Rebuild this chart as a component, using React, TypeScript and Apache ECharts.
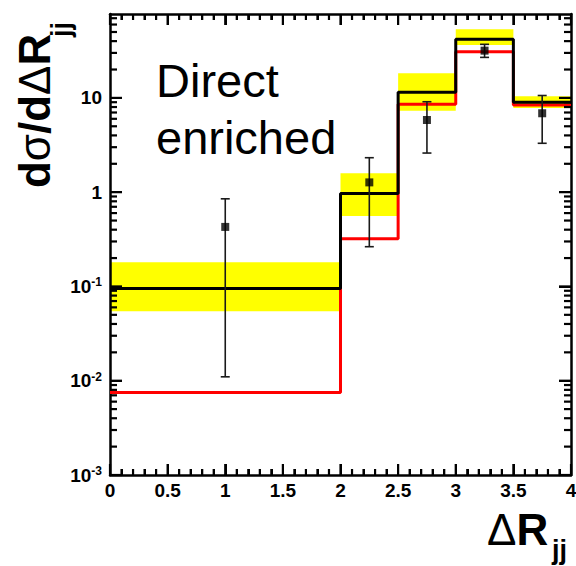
import React, { useEffect, useRef } from 'react';
import * as echarts from 'echarts';

// ---- data ----
const binEdges = [0, 2, 2.5, 3, 3.5, 4];
const totalMC = [0.095, 0.97, 11.5, 42, 9.0];      // black histogram
const directMC = [0.0075, 0.32, 8.55, 30.9, 8.4];  // red histogram
const bandLow = [0.0546, 0.56, 7.3, 36.4, 7.8];    // yellow band lower edge
const bandHigh = [0.181, 1.59, 18.2, 53.4, 10.4];  // yellow band upper edge
const dataX = [1, 2.25, 2.75, 3.25, 3.75];
const dataY = [0.428, 1.27, 5.83, 31.7, 6.87];
const errLow = [0.011, 0.264, 2.6, 26.9, 3.3];
const errHigh = [0.85, 2.32, 9.1, 37, 10.6];
const yMajorTicks = [0.001, 0.01, 0.1, 1, 10];
const yMinorFactors = [2, 3, 4, 5, 6, 7, 8, 9];
const xMajorTicks = [0, 0.5, 1, 1.5, 2, 2.5, 3, 3.5, 4];
const yMin = 0.001;
const yMax = 77.6;
const xMin = 0;
const xMax = 4;
const xInterval = 0.5;

const FONT = '"Liberation Sans", Arial, Helvetica, sans-serif';

function stepPoints(values: number[]) {
  const pts: number[][] = [];
  values.forEach((v, i) => {
    pts.push([binEdges[i], v]);
    pts.push([binEdges[i + 1], v]);
  });
  return pts;
}

const yMinorTicks: number[] = [];
yMajorTicks.forEach((d) => {
  yMinorFactors.forEach((k) => {
    const v = d * k;
    if (v <= yMax) yMinorTicks.push(v);
  });
});
const xMinorTicks: number[] = [];
xMajorTicks.slice(0, -1).forEach((m) => {
  [1, 2, 3, 4].forEach((k) => xMinorTicks.push(Math.round((m + k * 0.1) * 10) / 10));
});

function buildOption(): any {
  const lineCol = '#000';
  const yLabelFormatter = (v: number) => {
    const e = Math.round(Math.log10(v));
    if (e === 0) return '{b|1}';
    if (e === 1) return '{b|10}';
    return '{b|10}{e|' + e + '}';
  };
  const mkX = (position: string, labels: boolean) => ({
    type: 'value',
    position,
    min: xMin,
    max: xMax,
    interval: xInterval,
    splitLine: { show: false },
    axisLine: { show: true, onZero: false, lineStyle: { color: lineCol, width: 2.5 } },
    axisTick: { show: true, inside: true, length: 11, lineStyle: { color: lineCol, width: 2 } },
    minorTick: { show: true, splitNumber: 5, length: 6, lineStyle: { color: lineCol, width: 2 } },
    axisLabel: labels
      ? { show: true, color: '#000', fontFamily: FONT, fontWeight: 'bold', fontSize: 19, margin: 6, formatter: (v: number) => String(v) }
      : { show: false },
  });
  const mkY = (position: string, labels: boolean) => ({
    type: 'log',
    position,
    logBase: 10,
    min: yMin,
    max: yMax,
    splitLine: { show: false },
    axisLine: { show: true, onZero: false, lineStyle: { color: lineCol, width: 2.5 } },
    axisTick: { show: true, inside: true, length: 12, customValues: yMajorTicks, lineStyle: { color: lineCol, width: 2 } },
    axisLabel: labels
      ? {
          show: true,
          customValues: yMajorTicks,
          margin: 8,
          formatter: yLabelFormatter,
          rich: {
            b: { fontFamily: FONT, fontWeight: 'bold', fontSize: 19, color: '#000', lineHeight: 20 },
            e: { fontFamily: FONT, fontWeight: 'bold', fontSize: 12, color: '#000', verticalAlign: 'top', lineHeight: 12 },
          },
        }
      : { show: false },
  });

  return {
    animation: false,
    grid: { left: 110, right: 5, top: 14, bottom: 91, outerBoundsMode: 'none' },
    xAxis: [mkX('bottom', true), mkX('top', false)],
    yAxis: [mkY('left', true), mkY('right', false)],
    series: [
      {
        type: 'custom',
        name: 'band',
        z: -1,
        encode: { x: [0, 1], y: [2, 3] },
        data: bandLow.map((lo, i) => [binEdges[i], binEdges[i + 1], lo, bandHigh[i]]),
        renderItem: (params: any, api: any) => {
          const p0 = api.coord([api.value(0), api.value(3)]);
          const p1 = api.coord([api.value(1), api.value(2)]);
          return {
            type: 'rect',
            shape: { x: p0[0], y: p0[1], width: p1[0] - p0[0], height: p1[1] - p0[1] },
            style: { fill: '#ffff00' },
          };
        },
      },
      {
        // frame ticks on left and right, drawn as thin filled bars
        type: 'custom',
        name: 'yTickMarks',
        z: 8,
        encode: { x: [0, 1], y: 2 },
        data: yMinorTicks.map((v) => [xMin, xMax, v, 7]).concat(yMajorTicks.map((v) => [xMin, xMax, v, 12])),
        renderItem: (params: any, api: any) => {
          const len = api.value(3);
          const l = api.coord([api.value(0), api.value(2)]);
          const r = api.coord([api.value(1), api.value(2)]);
          return {
            type: 'group',
            children: [
              { type: 'rect', shape: { x: l[0], y: l[1] - 1.1, width: len, height: 2.2 }, style: { fill: '#000' } },
              { type: 'rect', shape: { x: r[0] - len, y: r[1] - 1.1, width: len, height: 2.2 }, style: { fill: '#000' } },
            ],
          };
        },
      },
      {
        // frame ticks on bottom and top, drawn as thin filled bars
        type: 'custom',
        name: 'xTickMarks',
        z: 8,
        encode: { x: 0, y: [1, 2] },
        data: xMinorTicks.map((v) => [v, yMin, yMax, 6]).concat(xMajorTicks.map((v) => [v, yMin, yMax, 11])),
        renderItem: (params: any, api: any) => {
          const len = api.value(3);
          const b = api.coord([api.value(0), api.value(1)]);
          const t = api.coord([api.value(0), api.value(2)]);
          return {
            type: 'group',
            children: [
              { type: 'rect', shape: { x: b[0] - 1.1, y: b[1] - len, width: 2.2, height: len }, style: { fill: '#000' } },
              { type: 'rect', shape: { x: t[0] - 1.1, y: t[1], width: 2.2, height: len }, style: { fill: '#000' } },
            ],
          };
        },
      },
      {
        type: 'line',
        name: 'direct',
        z: 3,
        symbol: 'none',
        data: stepPoints(directMC),
        lineStyle: { color: '#ff0000', width: 3 },
      },
      {
        type: 'line',
        name: 'total',
        z: 4,
        symbol: 'none',
        data: stepPoints(totalMC),
        lineStyle: { color: '#000000', width: 3 },
      },
      {
        type: 'custom',
        name: 'errors',
        z: 5,
        encode: { x: 0, y: [1, 2] },
        data: dataX.map((x, i) => [x, errLow[i], errHigh[i]]),
        renderItem: (params: any, api: any) => {
          const lo = api.coord([api.value(0), api.value(1)]);
          const hi = api.coord([api.value(0), api.value(2)]);
          const cap = 4.5;
          return {
            type: 'group',
            children: [
              { type: 'line', shape: { x1: lo[0], y1: lo[1], x2: hi[0], y2: hi[1] }, style: { stroke: '#1a1a1a', lineWidth: 1.6 } },
              { type: 'line', shape: { x1: lo[0] - cap, y1: lo[1], x2: lo[0] + cap, y2: lo[1] }, style: { stroke: '#1a1a1a', lineWidth: 1.6 } },
              { type: 'line', shape: { x1: hi[0] - cap, y1: hi[1], x2: hi[0] + cap, y2: hi[1] }, style: { stroke: '#1a1a1a', lineWidth: 1.6 } },
            ],
          };
        },
      },
      {
        type: 'scatter',
        name: 'data',
        z: 6,
        symbol: 'rect',
        symbolSize: 8,
        itemStyle: { color: '#000' },
        data: dataX.map((x, i) => [x, dataY[i]]),
      },
    ],
    graphic: [
      { type: 'text', x: 156, y: 80.4, style: { text: 'Direct', font: `47px ${FONT}`, fill: '#000', textAlign: 'left', textVerticalAlign: 'middle' } },
      { type: 'text', x: 156, y: 137, style: { text: 'enriched', font: `47px ${FONT}`, fill: '#000', textAlign: 'left', textVerticalAlign: 'middle' } },
      {
        type: 'text',
        x: 34.8,
        y: 188,
        rotation: Math.PI / 2,
        style: {
          text: '{b|d}{g|σ}{b|/d}{g|Δ}{b|R}',
          textAlign: 'left',
          textVerticalAlign: 'middle',
          rich: {
            b: { fontFamily: FONT, fontWeight: 'bold', fontSize: 44, fill: '#000' },
            g: { fontFamily: FONT, fontWeight: 'normal', fontSize: 44, fill: '#000' },
          },
        },
      },
      { type: 'text', x: 60.6, y: 37, rotation: Math.PI / 2, style: { text: 'jj', font: `bold 27px ${FONT}`, fill: '#000', textAlign: 'left', textVerticalAlign: 'middle' } },
      {
        type: 'text',
        x: 487,
        y: 529.8,
        style: {
          text: '{g|Δ}{b|R}',
          textAlign: 'left',
          textVerticalAlign: 'middle',
          rich: {
            b: { fontFamily: FONT, fontWeight: 'bold', fontSize: 44, fill: '#000' },
            g: { fontFamily: FONT, fontWeight: 'normal', fontSize: 44, fill: '#000' },
          },
        },
      },
      { type: 'text', x: 552, y: 549.6, style: { text: 'jj', font: `bold 27px ${FONT}`, fill: '#000', textAlign: 'left', textVerticalAlign: 'middle' } },
    ],
  };
}

export default function App() {
  const ref = useRef<HTMLDivElement>(null);

  useEffect(() => {
    if (!ref.current) return;
    const chart = echarts.init(ref.current, null, { renderer: 'svg' });
    chart.setOption(buildOption());
    return () => chart.dispose();
  }, []);

  return <div ref={ref} style={{ position: 'absolute', left: 0, top: 0, width: 576, height: 566 }} />;
}
